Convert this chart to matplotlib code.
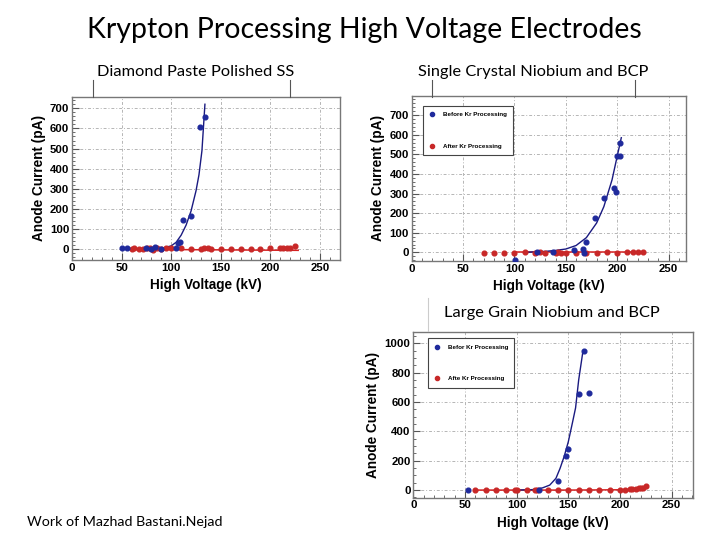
import matplotlib
matplotlib.use('Agg')
import matplotlib.pyplot as plt
from matplotlib.lines import Line2D
from matplotlib.ticker import MultipleLocator

# ---- Diamond Paste Polished SS ----
ss_before_kv = [50, 55, 75, 80, 84, 90, 105, 107, 109, 112, 120, 129, 134]
ss_before_pa = [5, 6, 5, 3, 10, 4, 5, 30, 35, 145, 165, 608, 655]
ss_after_kv = [60, 63, 68, 72, 76, 79, 82, 86, 90, 95, 100, 110, 120, 130, 133, 137, 140,
               150, 160, 170, 180, 190, 200, 210, 213, 217, 220, 225]
ss_after_pa = [3, 5, 4, 3, 6, 8, -3, 5, 2, 6, 5, 6, 4, 3, 8, 6, 4, 4, 3, 0, 3, 1, 5, 5, 7, 6, 8, 15]
ss_fit_kv = [60, 80, 90, 100, 105, 110, 115, 120, 125, 128, 131, 134]
ss_fit_pa = [0, 2, 5, 17, 35, 70, 120, 190, 290, 370, 490, 720]
ss_after_fit_kv = [60, 228]
ss_after_fit_pa = [0, -5]

# ---- Single Crystal Niobium and BCP ----
sc_before_kv = [101, 122, 138, 158, 167, 168, 170, 178, 187, 197, 199, 200, 203, 203]
sc_before_pa = [-40, 2, 0, 12, 15, -5, 51, 174, 276, 327, 310, 490, 490, 557]
sc_after_kv = [70, 80, 90, 100, 110, 120, 125, 130, 140, 142, 145, 150, 160, 170,
               180, 190, 200, 210, 215, 220, 225]
sc_after_pa = [-2, -4, -3, -1, 0, -2, 0, -1, -3, 0, -1, -2, -2, -3, -4, 0, -1, 0, 1, 2, 3]
sc_fit_kv = [110, 130, 140, 150, 160, 170, 180, 187, 195, 200, 204]
sc_fit_pa = [0, 5, 10, 17, 35, 75, 150, 233, 370, 490, 585]
sc_after_fit_kv = [100, 225]
sc_after_fit_pa = [0, 0]

# ---- Large Grain Niobium and BCP ----
lg_before_kv = [53, 122, 140, 148, 150, 160, 165, 170]
lg_before_pa = [0, 0, 61, 234, 280, 652, 947, 659]
lg_after_kv = [60, 70, 80, 90, 98, 100, 110, 118, 120, 130, 140, 150, 160, 170, 180, 190,
               200, 205, 210, 212, 215, 218, 220, 222, 225]
lg_after_pa = [0, 0, 0, 0, 0, -2, 0, 2, 0, 0, 0, 0, 0, 0, 0, 0, 0, 3, 5, 6, 8, 12, 15, 12, 25]
lg_fit_kv = [100, 115, 125, 132, 138, 142, 146, 150, 154, 157, 160, 164]
lg_fit_pa = [0, 3, 15, 34, 80, 148, 230, 330, 460, 560, 750, 940]
lg_after_fit_kv = [60, 150, 200, 210, 215, 220, 225]
lg_after_fit_pa = [0, 0, 2, 5, 9, 15, 24]

BLUE = '#1f2a9c'
BLUE_LINE = '#1a1a80'
RED = '#c82828'
RED_LINE = '#d42020'
FRAME = '#777777'

plt.rcParams['font.family'] = ['Liberation Sans', 'DejaVu Sans']

fig = plt.figure(figsize=(7.2, 5.4), dpi=100)
fig.patch.set_facecolor('white')


def make_axes(rect, xlim, ylim, ymajor, yminor):
	ax = fig.add_axes(rect)
	ax.set_xlim(*xlim)
	ax.set_ylim(*ylim)
	ax.xaxis.set_major_locator(MultipleLocator(50))
	ax.xaxis.set_minor_locator(MultipleLocator(10))
	ax.yaxis.set_major_locator(MultipleLocator(ymajor))
	ax.yaxis.set_minor_locator(MultipleLocator(yminor))
	ax.tick_params(which='both', direction='in', colors='#555555', labelcolor='black',
				   labelsize=8.2, pad=2)
	ax.tick_params(which='major', length=5)
	ax.tick_params(which='minor', length=2.5)
	for lbl in ax.get_xticklabels() + ax.get_yticklabels():
		lbl.set_fontweight('bold')
	ax.grid(True, which='major', color='#b5b5b5', linestyle=(0, (3, 2, 1, 2)), linewidth=0.7)
	for s in ax.spines.values():
		s.set_color(FRAME)
		s.set_linewidth(1.0)
	ax.set_xlabel('High Voltage (kV)', fontsize=9.8, fontweight='bold', labelpad=4)
	ax.set_ylabel('Anode Current (pA)', fontsize=9.8, fontweight='bold', labelpad=3)
	return ax


def draw(ax, bkv, bpa, akv, apa, fkv, fpa, afkv, afpa):
	ax.plot(afkv, afpa, color=RED_LINE, lw=1.1, zorder=3)
	ax.plot(fkv, fpa, color=BLUE_LINE, lw=1.0, zorder=3)
	ax.plot(akv, apa, 'o', color=RED, ms=3.4, zorder=4, label='After Kr Processing')
	ax.plot(bkv, bpa, 'o', color=BLUE, ms=3.4, zorder=5, label='Before Kr Processing')


ax1 = make_axes([0.100, 0.5185, 0.372, 0.3019], (0, 270), (-53, 756), 100, 20)
draw(ax1, ss_before_kv, ss_before_pa, ss_after_kv, ss_after_pa,
	 ss_fit_kv, ss_fit_pa, ss_after_fit_kv, ss_after_fit_pa)

ax2 = make_axes([0.5718, 0.5167, 0.381, 0.3056], (0, 267), (-44, 798), 100, 20)
draw(ax2, sc_before_kv, sc_before_pa, sc_after_kv, sc_after_pa,
	 sc_fit_kv, sc_fit_pa, sc_after_fit_kv, sc_after_fit_pa)

ax3 = make_axes([0.574, 0.0783, 0.3885, 0.3074], (0, 270.6), (-52, 1079), 200, 50)
draw(ax3, lg_before_kv, lg_before_pa, lg_after_kv, lg_after_pa,
	 lg_fit_kv, lg_fit_pa, lg_after_fit_kv, lg_after_fit_pa)


def legend_box(ax, anchor, labels):
	h = [Line2D([], [], ls='', marker='o', color=BLUE, ms=3),
		 Line2D([], [], ls='', marker='o', color=RED, ms=3)]
	leg = ax.legend(h, labels, loc='upper left', bbox_to_anchor=anchor,
					prop={'size': 4.5, 'weight': 'bold'}, labelspacing=4.2,
					borderpad=1.0, handlelength=1.0, handletextpad=1.2,
					fancybox=False, framealpha=1, edgecolor='#444444')
	leg.get_frame().set_linewidth(0.8)
	leg.set_zorder(10)


legend_box(ax2, (0.03, 0.96), ['Before Kr Processing', 'After Kr Processing'])
legend_box(ax3, (0.04, 0.98), ['Befor Kr Processing', 'Afte Kr Processing'])

# cropped boxes visible above the top plots
for x0, x1 in [(92.7, 290), (431.7, 635)]:
	for xx in (x0, x1):
		fig.add_artist(Line2D([xx / 720, xx / 720], [1 - 97 / 540, 1 - 80 / 540],
							  color='#555555', lw=0.8))
fig.add_artist(Line2D([428 / 720, 428 / 720], [1 - 331 / 540, 1 - 298 / 540],
					  color='#cccccc', lw=0.8))

tfont = ['Lato', 'DejaVu Sans']
fig.text(0.506, 1 - 30 / 540, 'Krypton Processing High Voltage Electrodes',
		 ha='center', va='center', fontsize=20.5, family=tfont)
fig.text(196 / 720, 1 - 72 / 540, 'Diamond Paste Polished SS', ha='center', va='center',
		 fontsize=11.8, family=tfont)
fig.text(533 / 720, 1 - 72 / 540, 'Single Crystal Niobium and BCP', ha='center', va='center',
		 fontsize=11.8, family=tfont)
fig.text(552 / 720, 1 - 313 / 540, 'Large Grain Niobium and BCP', ha='center', va='center',
		 fontsize=11.8, family=tfont)
fig.text(27 / 720, 1 - 522 / 540, 'Work of Mazhad Bastani.Nejad', ha='left', va='center',
		 fontsize=10.3, family=tfont)

fig.savefig('out.png', dpi=100)
